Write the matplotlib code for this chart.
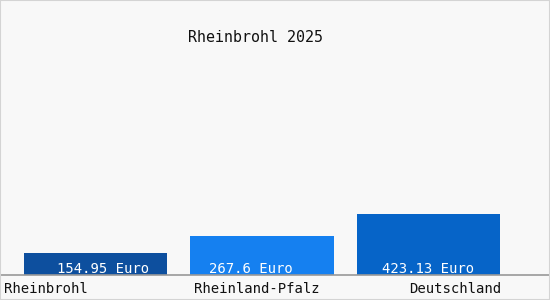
import numpy as np
import matplotlib
matplotlib.use("Agg")
import matplotlib.pyplot as plt

# chart data
title = "Rheinbrohl 2025"
categories = ["Rheinbrohl", "Rheinland-Pfalz", "Deutschland"]
values = [154.95, 267.6, 423.13]
value_labels = ["154.95 Euro", "267.6 Euro", "423.13 Euro"]
colors = ["#0d4f9e", "#1580f0", "#0664c8"]

font = "DejaVu Sans Mono"

fig = plt.figure(figsize=(5.5, 3.0), dpi=100, facecolor="#f8f8f8")
# thin light border around the whole figure
fig.patches.append(plt.Rectangle((0, 0), 1, 1, transform=fig.transFigure,
                                 fill=False, edgecolor="#d4d4d4", lw=1.5))

ax = fig.add_axes([0, 25 / 300, 1, 255 / 300])
ax.set_facecolor("#f8f8f8")

x = np.arange(len(categories))
ax.bar(x, values, width=0.86, color=colors)
ax.set_xlim(-0.574, 2.73)
ax.set_ylim(0, 1769)

# value labels sit a little off-centre in the original
label_shift = [0.045, -0.066, 0.0]
for xi, lab, dx in zip(x, value_labels, label_shift):
    ax.text(xi + dx, -6, lab, ha="center", va="bottom", color="white",
            fontsize=10, family=font)

# category labels below the baseline
ax.text(-0.55, -0.028, categories[0], transform=ax.get_xaxis_transform(),
        ha="left", va="top", fontsize=10, family=font, color="#111111")
ax.text(0.97, -0.028, categories[1], transform=ax.get_xaxis_transform(),
        ha="center", va="top", fontsize=10, family=font, color="#111111")
ax.text(2.44, -0.028, categories[2], transform=ax.get_xaxis_transform(),
        ha="right", va="top", fontsize=10, family=font, color="#111111")

for s in ["top", "left", "right"]:
    ax.spines[s].set_visible(False)
ax.spines["bottom"].set_color("#999999")
ax.spines["bottom"].set_linewidth(1.2)
ax.set_xticks([])
ax.set_yticks([])

fig.text(256 / 550, 1 - 38 / 300, title, ha="center", va="center",
         fontsize=10.8, family=font, color="#111111")

fig.savefig("out.png", dpi=100, facecolor=fig.get_facecolor())
